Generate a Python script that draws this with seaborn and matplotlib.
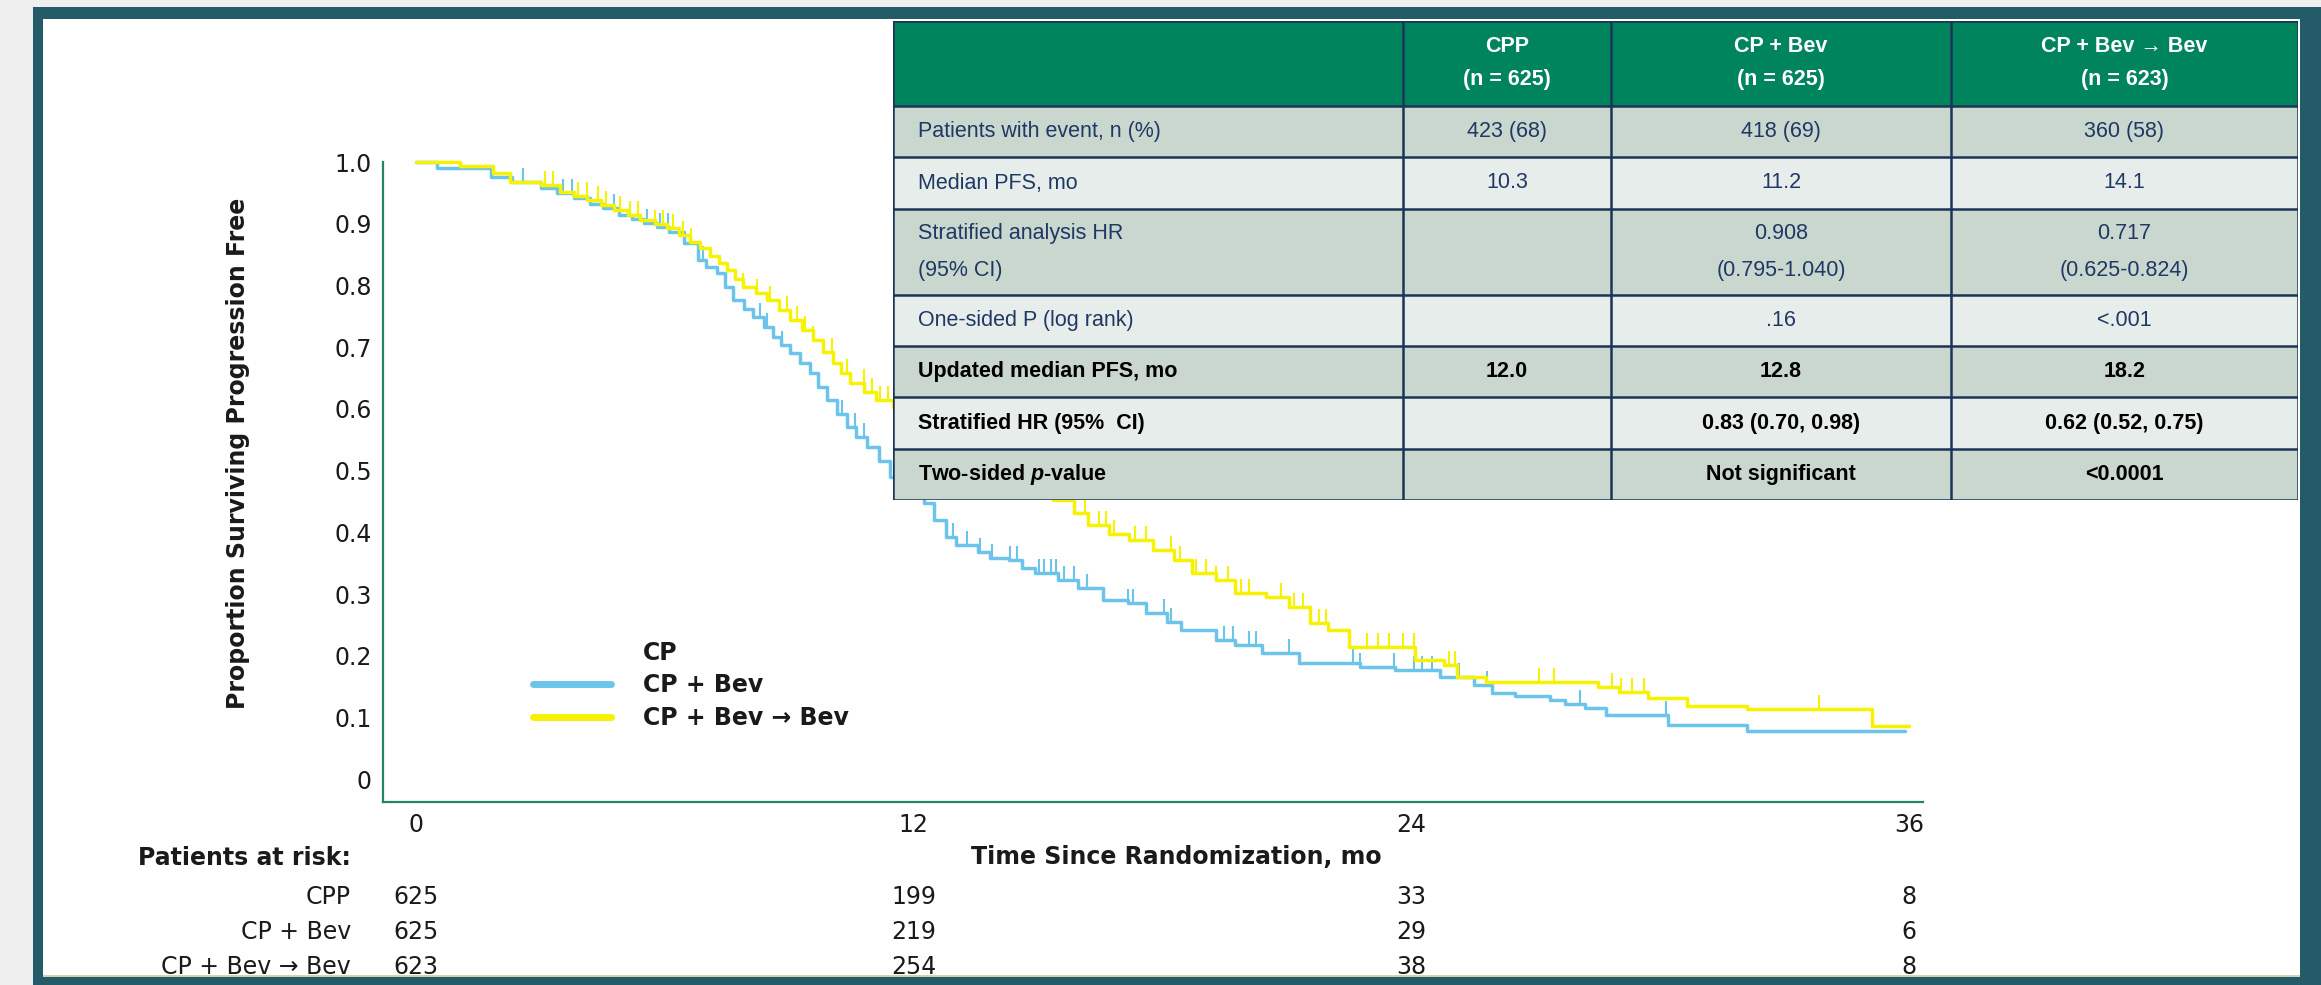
import numpy as np
import pandas as pd
import matplotlib
matplotlib.use("Agg")
import matplotlib.pyplot as plt
import seaborn as sns
from matplotlib.patches import Rectangle
from matplotlib.lines import Line2D
from matplotlib import transforms

# ---------------- data ----------------
series_names = ["CP", "CP + Bev", "CP + Bev \u2192 Bev"]

bev_t = [0, 0.5, 1.8, 2.3, 3.0, 3.4, 3.8, 4.2, 4.5, 4.9, 5.2, 5.5, 5.8, 6.1, 6.45, 6.8, 7.0,
         7.25, 7.45, 7.65, 7.9, 8.13, 8.4, 8.61, 8.8, 9.02, 9.25, 9.5, 9.7, 9.91, 10.15, 10.39,
         10.6, 10.87, 11.15, 11.43, 11.8, 12.25, 12.5, 12.78, 13.03, 13.55, 13.84, 14.3, 14.6,
         14.93, 15.48, 15.96, 16.57, 17.17, 17.6, 18.1, 18.45, 19.3, 19.75, 20.4, 21.3, 22.76,
         23.6, 24.7, 25.5, 25.95, 26.5, 27.35, 27.7, 28.2, 28.7, 30.2, 32.1, 35.9]
bev_s = [1.0, 0.99, 0.976, 0.968, 0.958, 0.95, 0.941, 0.932, 0.925, 0.914, 0.908, 0.901, 0.894,
         0.887, 0.869, 0.841, 0.83, 0.82, 0.797, 0.776, 0.762, 0.749, 0.732, 0.716, 0.703, 0.69,
         0.674, 0.658, 0.636, 0.614, 0.592, 0.571, 0.555, 0.538, 0.515, 0.49, 0.47, 0.447, 0.42,
         0.392, 0.379, 0.368, 0.358, 0.355, 0.342, 0.334, 0.322, 0.31, 0.29, 0.285, 0.269, 0.254,
         0.241, 0.225, 0.217, 0.204, 0.188, 0.182, 0.177, 0.165, 0.152, 0.139, 0.135, 0.128,
         0.122, 0.115, 0.104, 0.088, 0.078, 0.078]
bev_cens = [2.58, 3.55, 3.75, 4.76, 5.16, 5.57, 5.88, 6.08, 6.92, 8.29, 8.45, 8.82, 10.27, 10.59,
            10.79, 11.15, 12.95, 13.29, 13.6, 13.89, 14.32, 14.49, 15.02, 15.14, 15.31, 15.43,
            15.63, 15.87, 16.18, 17.17, 17.29, 18.04, 18.2, 19.48, 19.7, 20.09, 20.26, 21.05,
            22.6, 22.76, 23.58, 24.07, 24.26, 24.5, 25.15, 25.82, 28.07, 30.14]

main_t = [0, 1.06, 1.86, 2.27, 3.0, 3.47, 3.8, 4.12, 4.45, 4.76, 5.1, 5.4, 5.75, 6.05, 6.35, 6.6,
          6.85, 7.09, 7.3, 7.49, 7.7, 7.89, 8.2, 8.46, 8.75, 9.02, 9.3, 9.58, 9.8, 10.06, 10.25,
          10.47, 10.8, 11.1, 11.5, 12.0, 12.6, 13.2, 13.8, 14.3, 14.9, 15.36, 15.87, 16.2, 16.7,
          17.2, 17.77, 18.28, 18.7, 19.3, 19.75, 20.5, 21.05, 21.56, 22.0, 22.5, 24.1, 24.8, 25.1,
          25.8, 28.5, 29.0, 29.7, 30.65, 32.1, 35.1, 36.0]
main_s = [1.0, 0.993, 0.982, 0.968, 0.963, 0.952, 0.945, 0.938, 0.93, 0.922, 0.914, 0.906, 0.9,
          0.893, 0.882, 0.871, 0.86, 0.847, 0.836, 0.825, 0.81, 0.798, 0.787, 0.776, 0.76, 0.744,
          0.728, 0.711, 0.692, 0.674, 0.658, 0.642, 0.628, 0.615, 0.603, 0.585, 0.56, 0.535,
          0.51, 0.49, 0.47, 0.452, 0.431, 0.412, 0.398, 0.387, 0.371, 0.355, 0.334, 0.322, 0.301,
          0.295, 0.279, 0.253, 0.242, 0.214, 0.193, 0.185, 0.165, 0.157, 0.149, 0.141, 0.131,
          0.118, 0.113, 0.086, 0.086]
main_cens = [3.11, 3.31, 3.91, 4.11, 4.39, 4.59, 4.92, 5.16, 5.36, 5.76, 5.96, 6.2, 6.44, 6.64,
             7.89, 8.21, 8.54, 8.94, 9.18, 9.38, 9.58, 10.02, 10.39, 10.79, 10.99, 11.19, 11.39,
             15.8, 16.13, 16.47, 16.64, 16.83, 17.34, 17.6, 18.2, 18.42, 18.8, 19.05, 19.3,
             19.57, 19.9, 20.09, 20.86, 21.17, 21.39, 21.77, 21.94, 22.93, 23.2, 23.46, 23.8,
             24.07, 24.9, 25.05, 27.07, 27.45, 28.83, 29.05, 29.32, 29.6, 33.83]

x_ticks = [0, 12, 24, 36]
y_ticks = [0, 0.1, 0.2, 0.3, 0.4, 0.5, 0.6, 0.7, 0.8, 0.9, 1.0]
y_tick_labels = ["0", "0.1", "0.2", "0.3", "0.4", "0.5", "0.6", "0.7", "0.8", "0.9", "1.0"]

risk_labels = ["CPP", "CP + Bev", "CP + Bev \u2192 Bev"]
risk_cpp = [625, 199, 33, 8]
risk_bev = [625, 219, 29, 6]
risk_main = [623, 254, 38, 8]

table_header = ["", "CPP\n(n = 625)", "CP + Bev\n(n = 625)", "CP + Bev \u2192 Bev\n(n = 623)"]
table_rows = ["Patients with event, n (%)", "Median PFS, mo", "Stratified analysis HR\n(95% CI)",
              "One-sided P (log rank)", "Updated median PFS, mo", "Stratified HR (95%  CI)",
              "Two-sided $\\mathbfit{p}$-value"]
table_cpp = ["423 (68)", "10.3", "", "", "12.0", "", ""]
table_bev = ["418 (69)", "11.2", "0.908\n(0.795-1.040)", ".16", "12.8", "0.83 (0.70, 0.98)",
             "Not significant"]
table_main = ["360 (58)", "14.1", "0.717\n(0.625-0.824)", "<.001", "18.2", "0.62 (0.52, 0.75)",
              "<0.0001"]
table_bold = [False, False, False, False, True, True, True]

# ---------------- style ----------------
sns.set_theme(style="white")
plt.rcParams['font.family'] = ['DejaVu Sans']
plt.rcParams['mathtext.fontset'] = 'custom'
plt.rcParams['mathtext.bfit'] = 'Liberation Sans:bold:italic'
plt.rcParams['mathtext.rm'] = 'Liberation Sans:bold'

BLUE = '#6CC4EA'
YELLOW = '#F6F200'
TEAL = '#245B68'
AXC = '#238467'
TXT = '#1A1A1A'

W, H = 2321, 985
fig = plt.figure(figsize=(W / 100, H / 100), dpi=100)
fig.patch.set_facecolor('#EFEFEF')


def frect(x0, y0, x1, y1, color, z):
    fig.patches.append(Rectangle((x0 / W, 1 - y1 / H), (x1 - x0) / W, (y1 - y0) / H,
                                 transform=fig.transFigure, facecolor=color,
                                 edgecolor='none', zorder=z))


frect(33, 7, W, H, TEAL, -10)
frect(43, 19, 2300, 977, '#D9CFB4', -9)
frect(43, 19, 2300, 975, 'white', -8)

# ---------------- KM plot ----------------
ax = fig.add_axes([383 / W, (H - 802) / H, 1540 / W, 640 / H])
ax.set_facecolor('none')
ax.set_xlim(-0.8, 36.34)
ax.set_ylim(-0.037, 1.0)

df_bev = pd.DataFrame({'t': bev_t, 's': bev_s})
df_main = pd.DataFrame({'t': main_t, 's': main_s})
sns.lineplot(data=df_bev, x='t', y='s', ax=ax, color=BLUE, lw=2.5, drawstyle='steps-post',
             estimator=None, sort=False, clip_on=False, zorder=3)
sns.lineplot(data=df_main, x='t', y='s', ax=ax, color=YELLOW, lw=2.5, drawstyle='steps-post',
             estimator=None, sort=False, clip_on=False, zorder=4)


def step_at(tt, ss, q):
    tt = np.asarray(tt); ss = np.asarray(ss)
    idx = np.searchsorted(tt, np.asarray(q), side='right') - 1
    return ss[idx]


ax.plot(bev_cens, step_at(bev_t, bev_s, bev_cens), ls='none', marker=2, ms=10, mew=1.5,
        color=BLUE, clip_on=False, zorder=3)
ax.plot(main_cens, step_at(main_t, main_s, main_cens), ls='none', marker=2, ms=10, mew=1.5,
        color=YELLOW, clip_on=False, zorder=4)

for sp in ['top', 'right']:
    ax.spines[sp].set_visible(False)
for sp in ['left', 'bottom']:
    ax.spines[sp].set_color(AXC)
    ax.spines[sp].set_linewidth(1.6)

ax.set_xticks(x_ticks)
ax.set_xticklabels([str(v) for v in x_ticks])
ax.set_yticks(y_ticks)
ax.set_yticklabels(y_tick_labels)
ax.tick_params(axis='both', length=0, pad=8, labelsize=17, labelcolor=TXT)

ax.set_xlabel("Time Since Randomization, mo", fontsize=17, weight='bold', color=TXT, va='center')
ax.xaxis.set_label_coords((1176 - 383) / 1540, (802 - 857) / 640)
ax.set_ylabel("Proportion Surviving Progression Free", fontsize=17, weight='bold', color=TXT,
              va='center')
ax.yaxis.set_label_coords((238 - 383) / 1540, (802 - 453) / 640)

handles = [Line2D([], [], color='none', lw=5), Line2D([], [], color=BLUE, lw=5),
           Line2D([], [], color=YELLOW, lw=5)]
fig.legend(handles, series_names, loc='upper left', bbox_to_anchor=(533 / W, 1 - 641 / H),
           frameon=False, borderpad=0, borderaxespad=0, handlelength=3.3, handletextpad=1.35,
           labelspacing=0.36, prop={'weight': 'bold', 'size': 17}, labelcolor=TXT)

# ---------------- patients at risk ----------------
fig.text(351 / W, 1 - 858 / H, "Patients at risk:", ha='right', va='center', weight='bold',
         size=17, color=TXT)
trans = transforms.blended_transform_factory(ax.transData, fig.transFigure)
for lab, vals, ypx in zip(risk_labels, [risk_cpp, risk_bev, risk_main], [897, 932, 967]):
    fig.text(351 / W, 1 - ypx / H, lab, ha='right', va='center', size=17, color=TXT)
    for xt, v in zip(x_ticks, vals):
        ax.text(xt, 1 - ypx / H, str(v), transform=trans, ha='center', va='center', size=17,
                color=TXT)

# ---------------- summary table ----------------
tax = fig.add_axes([893 / W, 1 - 500 / H, 1405 / W, 479 / H], zorder=10)
tax.set_xlim(0, 1405)
tax.set_ylim(479, 0)
tax.axis('off')
col_b = [0, 510, 718, 1058, 1405]
row_b = [0, 85, 136, 188, 274, 325, 376, 428, 479]
HEAD = '#00845E'
DARK = '#C9D7CF'
LIGHT = '#E7EDEA'
LINEC = '#1C3557'
TFONT = ['Liberation Sans', 'DejaVu Sans']

tax.add_patch(Rectangle((0, 0), 1405, row_b[1], facecolor=HEAD, edgecolor='none'))
for i in range(len(table_rows)):
    tax.add_patch(Rectangle((0, row_b[i + 1]), 1405, row_b[i + 2] - row_b[i + 1],
                            facecolor=DARK if i % 2 == 0 else LIGHT, edgecolor='none'))
tax.hlines(row_b, 0, 1405, color=LINEC, lw=1.8)
tax.vlines(col_b, 0, 479, color=LINEC, lw=1.8)

for j in range(1, 4):
    cx = (col_b[j] + col_b[j + 1]) / 2
    tax.text(cx, row_b[1] / 2, table_header[j], ha='center', va='center', color='white',
             weight='bold', size=15.5, family=TFONT, linespacing=1.75)

columns = [table_cpp, table_bev, table_main]
for i, lab in enumerate(table_rows):
    cy = (row_b[i + 1] + row_b[i + 2]) / 2
    bold = table_bold[i]
    color = 'black' if bold else '#1F3864'
    wt = 'bold' if bold else 'normal'
    tax.text(25, cy, lab, ha='left', va='center', color=color, weight=wt, size=15.5,
             family=TFONT, linespacing=1.95)
    for j, col in enumerate(columns):
        cx = (col_b[j + 1] + col_b[j + 2]) / 2
        if col[i]:
            tax.text(cx, cy, col[i], ha='center', va='center', color=color, weight=wt,
                     size=15.5, family=TFONT, linespacing=1.95)

fig.savefig("out.png", dpi=100)
